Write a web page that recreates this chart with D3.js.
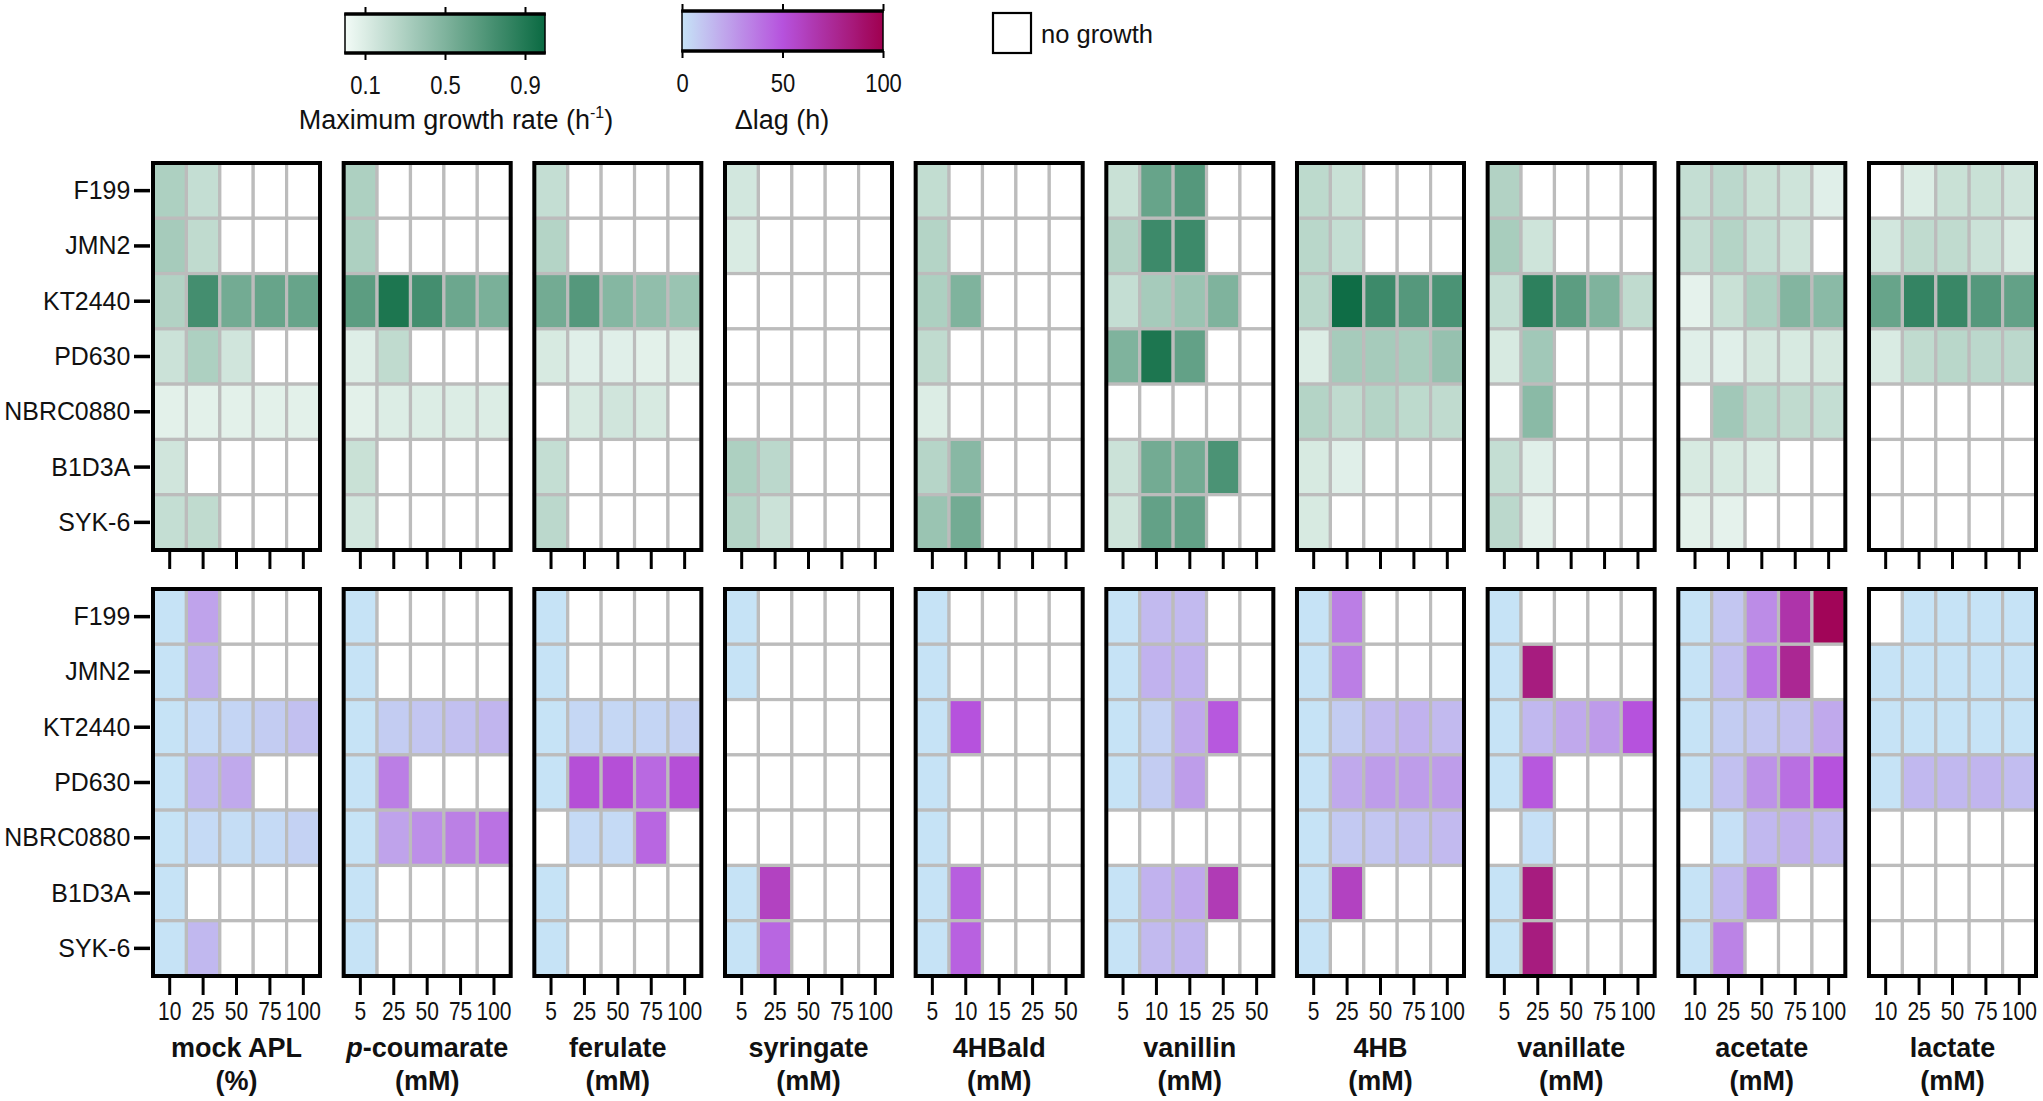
<!DOCTYPE html>
<html><head><meta charset="utf-8">
<script src="https://cdn.jsdelivr.net/npm/d3@7"></script>
<style>
html,body{margin:0;padding:0;background:#fff;}
svg{display:block;}
text{font-family:"Liberation Sans",Arial,Helvetica,sans-serif;fill:#111;}
</style></head><body>
<svg id="chart" width="2043" height="1101"></svg>
<script>
const N = null;
const strains = ["F199","JMN2","KT2440","PD630","NBRC0880","B1D3A","SYK-6"];
const substrates = ["mock APL","p-coumarate","ferulate","syringate","4HBald","vanillin","4HB","vanillate","acetate","lactate"];
const units = ["(%)","(mM)","(mM)","(mM)","(mM)","(mM)","(mM)","(mM)","(mM)","(mM)"];
const concentrations = [
  ["10","25","50","75","100"],["5","25","50","75","100"],["5","25","50","75","100"],
  ["5","25","50","75","100"],["5","10","15","25","50"],["5","10","15","25","50"],
  ["5","25","50","75","100"],["5","25","50","75","100"],["10","25","50","75","100"],
  ["10","25","50","75","100"]];
const growthTicks = [0.1, 0.5, 0.9];
const lagTicks = [0, 50, 100];

// Maximum growth rate (h^-1), rows = strains, cols = concentrations
const rateMockAPL   = [[0.30,0.20,N,N,N],[0.33,0.22,N,N,N],[0.28,0.75,0.55,0.60,0.60],[0.17,0.30,0.15,N,N],[0.07,0.07,0.07,0.07,0.07],[0.15,N,N,N,N],[0.20,0.22,N,N,N]];
const rateCoumarate = [[0.30,N,N,N,N],[0.30,N,N,N,N],[0.65,0.92,0.75,0.58,0.52],[0.09,0.22,N,N,N],[0.07,0.10,0.10,0.10,0.10],[0.18,N,N,N,N],[0.14,N,N,N,N]];
const rateFerulate  = [[0.20,N,N,N,N],[0.27,N,N,N,N],[0.55,0.68,0.47,0.42,0.38],[0.12,0.08,0.08,0.07,0.07],[N,0.12,0.15,0.12,N],[0.20,N,N,N,N],[0.24,N,N,N,N]];
const rateSyringate = [[0.14,N,N,N,N],[0.11,N,N,N,N],[N,N,N,N,N],[N,N,N,N,N],[N,N,N,N,N],[0.30,0.24,N,N,N],[0.27,0.17,N,N,N]];
const rate4HBald    = [[0.21,N,N,N,N],[0.27,N,N,N,N],[0.30,0.50,N,N,N],[0.22,N,N,N,N],[0.10,N,N,N,N],[0.26,0.46,N,N,N],[0.38,0.55,N,N,N]];
const rateVanillin  = [[0.18,0.60,0.68,N,N],[0.28,0.78,0.78,N,N],[0.20,0.33,0.38,0.50,N],[0.50,0.92,0.62,N,N],[N,N,N,N,N],[0.17,0.55,0.55,0.72,N],[0.16,0.62,0.62,N,N]];
const rate4HB       = [[0.23,0.18,N,N,N],[0.25,0.20,N,N,N],[0.25,0.98,0.78,0.68,0.72],[0.10,0.33,0.33,0.32,0.40],[0.27,0.22,0.27,0.23,0.22],[0.12,0.08,N,N,N],[0.12,N,N,N,N]];
const rateVanillate = [[0.28,N,N,N,N],[0.32,0.16,N,N,N],[0.20,0.85,0.65,0.50,0.22],[0.12,0.35,N,N,N],[N,0.45,N,N,N],[0.20,0.08,N,N,N],[0.24,0.06,N,N,N]];
const rateAcetate   = [[0.20,0.24,0.18,0.16,0.08],[0.20,0.27,0.20,0.16,N],[0.06,0.18,0.30,0.48,0.45],[0.08,0.08,0.13,0.12,0.13],[N,0.35,0.25,0.22,0.20],[0.12,0.12,0.10,N,N],[0.07,0.06,N,N,N]];
const rateLactate   = [[N,0.10,0.18,0.18,0.15],[0.14,0.22,0.22,0.17,0.11],[0.60,0.82,0.80,0.68,0.62],[0.11,0.22,0.25,0.24,0.24],[N,N,N,N,N],[N,N,N,N,N],[N,N,N,N,N]];

// Δlag (h)
const lagMockAPL   = [[0,22,N,N,N],[0,18,N,N,N],[0,3,5,8,12],[0,15,20,N,N],[0,3,2,3,6],[0,N,N,N,N],[0,15,N,N,N]];
const lagCoumarate = [[0,N,N,N,N],[0,N,N,N,N],[0,8,10,12,16],[0,35,N,N,N],[0,22,29,34,39],[0,N,N,N,N],[0,N,N,N,N]];
const lagFerulate  = [[0,N,N,N,N],[0,N,N,N,N],[0,4,4,5,6],[0,52,52,42,52],[N,3,3,43,N],[0,N,N,N,N],[0,N,N,N,N]];
const lagSyringate = [[0,N,N,N,N],[0,N,N,N,N],[N,N,N,N,N],[N,N,N,N,N],[N,N,N,N,N],[0,60,N,N,N],[0,43,N,N,N]];
const lag4HBald    = [[0,N,N,N,N],[0,N,N,N,N],[0,50,N,N,N],[0,N,N,N,N],[0,N,N,N,N],[0,46,N,N,N],[0,45,N,N,N]];
const lagVanillin  = [[0,14,14,N,N],[0,17,17,N,N],[0,6,20,48,N],[0,8,24,N,N],[N,N,N,N,N],[0,17,20,64,N],[0,14,16,N,N]];
const lag4HB       = [[0,35,N,N,N],[0,35,N,N,N],[0,8,14,17,14],[0,20,24,24,24],[0,9,10,12,14],[0,60,N,N,N],[0,N,N,N,N]];
const lagVanillate = [[0,N,N,N,N],[0,83,N,N,N],[0,15,20,25,50],[0,48,N,N,N],[N,1,N,N,N],[0,83,N,N,N],[0,83,N,N,N]];
const lagAcetate   = [[0,10,30,68,97],[0,12,38,76,N],[0,8,10,12,20],[0,12,28,40,50],[N,1,15,18,15],[0,15,35,N,N],[0,33,N,N,N]];
const lagLactate   = [[N,0,0,0,0],[0,0,0,0,0],[0,0,0,0,0],[0,15,15,16,13],[N,N,N,N,N],[N,N,N,N,N],[N,N,N,N,N]];

const rates = [rateMockAPL,rateCoumarate,rateFerulate,rateSyringate,rate4HBald,rateVanillin,rate4HB,rateVanillate,rateAcetate,rateLactate];
const lags  = [lagMockAPL,lagCoumarate,lagFerulate,lagSyringate,lag4HBald,lagVanillin,lag4HB,lagVanillate,lagAcetate,lagLactate];

const FONT = '"Liberation Sans",Arial,Helvetica,sans-serif';
const svg = d3.select("#chart");
const growthColor = d3.scaleLinear().domain([0,1]).range(["#f3fbf7","#0a6a42"]).clamp(true);
const lagColor = d3.scaleLinear().domain([0,50,100]).range(["#c6e3f6","#b652dd","#a0004f"]).clamp(true);

const panelX = d3.scaleBand().domain(d3.range(10)).range([153,2036]).paddingInner(0.124).paddingOuter(0);
const rows = [{data: rates, color: growthColor, y0:163, y1:550, labels:false},
              {data: lags, color: lagColor, y0:589, y1:976, labels:true}];

rows.forEach((row) => {
  const yS = d3.scaleBand().domain(strains).range([row.y0,row.y1]);
  substrates.forEach((sub, pi) => {
    const x0 = panelX(pi), w = panelX.bandwidth();
    const xS = d3.scaleBand().domain(concentrations[pi]).range([x0, x0+w]);
    const g = svg.append("g");
    const cells = [];
    row.data[pi].forEach((r, i) => r.forEach((v, j) => cells.push({s:strains[i], c:concentrations[pi][j], v})));
    g.selectAll("rect.cell").data(cells).join("rect")
      .attr("x", d => xS(d.c)).attr("y", d => yS(d.s))
      .attr("width", xS.bandwidth()).attr("height", yS.bandwidth())
      .attr("fill", d => d.v === null ? "#ffffff" : row.color(d.v))
      .attr("stroke", "#bcbcbc").attr("stroke-width", 3.2);
    g.append("rect").attr("x", x0).attr("y", row.y0).attr("width", w).attr("height", row.y1-row.y0)
      .attr("fill","none").attr("stroke","#000").attr("stroke-width",4);
    const ax = d3.axisBottom(xS).tickSize(17).tickPadding(7);
    const axg = g.append("g").attr("transform", `translate(0,${row.y1+2})`).call(ax);
    axg.select(".domain").remove();
    axg.selectAll(".tick line").attr("stroke","#000").attr("stroke-width",3);
    if (row.labels) {
      axg.selectAll(".tick text").attr("font-size",25).attr("fill","#111").attr("font-family",FONT)
        .attr("transform","scale(0.84,1)");
      const cx = x0 + w/2;
      const t1 = g.append("text").attr("x",cx).attr("y",1057).attr("text-anchor","middle")
        .attr("font-size",27).attr("font-weight","bold");
      if (sub === "p-coumarate") {
        t1.append("tspan").attr("font-style","italic").text("p");
        t1.append("tspan").text("-coumarate");
      } else t1.text(sub);
      g.append("text").attr("x",cx).attr("y",1090).attr("text-anchor","middle")
        .attr("font-size",27).attr("font-weight","bold").text(units[pi]);
    } else {
      axg.selectAll(".tick text").remove();
    }
  });
  const ay = d3.axisLeft(yS).tickSize(16).tickPadding(5);
  const ayg = svg.append("g").attr("transform", `translate(${panelX(0)-3},0)`).call(ay);
  ayg.select(".domain").remove();
  ayg.selectAll(".tick line").attr("stroke","#000").attr("stroke-width",3.5);
  ayg.selectAll(".tick text").attr("font-size",26.5).attr("fill","#111").attr("font-family",FONT)
    .attr("transform","scale(0.94,1)");
});

// Legends
const defs = svg.append("defs");
function gradient(id, scale, domain) {
  const lg = defs.append("linearGradient").attr("id", id).attr("x1","0%").attr("x2","100%");
  d3.range(0, 1.0001, 0.05).forEach(t => {
    lg.append("stop").attr("offset", (t*100)+"%").attr("stop-color", scale(domain[0] + t*(domain[1]-domain[0])));
  });
}
gradient("gGrow", growthColor, [0,1]);
gradient("gLag", lagColor, [0,100]);

function colorbar(x0, x1, y0, y1, grad, domain, ticks, fmt) {
  const s = d3.scaleLinear().domain(domain).range([x0, x1]);
  const g = svg.append("g");
  g.append("rect").attr("x",x0).attr("y",y0).attr("width",x1-x0).attr("height",y1-y0)
    .attr("fill",`url(#${grad})`).attr("stroke","#000").attr("stroke-width",1.5);
  g.append("line").attr("x1",x0-0.75).attr("x2",x1+0.75).attr("y1",y0).attr("y2",y0).attr("stroke","#000").attr("stroke-width",3.5);
  g.append("line").attr("x1",x0-0.75).attr("x2",x1+0.75).attr("y1",y1).attr("y2",y1).attr("stroke","#000").attr("stroke-width",3.5);
  const top = d3.axisTop(s).tickValues(ticks).tickSize(7).tickFormat("");
  g.append("g").attr("transform",`translate(0,${y0})`).call(top).call(a => {a.select(".domain").remove(); a.selectAll("line").attr("stroke","#000").attr("stroke-width",2);});
  const bot = d3.axisBottom(s).tickValues(ticks).tickSize(7).tickPadding(16).tickFormat(fmt);
  const bg = g.append("g").attr("transform",`translate(0,${y1})`).call(bot);
  bg.select(".domain").remove();
  bg.selectAll("line").attr("stroke","#000").attr("stroke-width",2);
  bg.selectAll("text").attr("font-size",25).attr("fill","#111").attr("font-family",FONT)
    .attr("transform","scale(0.88,1)");
  return g;
}
const gl = colorbar(345, 545, 14, 53, "gGrow", [0,1], growthTicks, d3.format(".1f"));
const tg = gl.append("text").attr("x",456).attr("y",129).attr("text-anchor","middle").attr("font-size",27);
tg.append("tspan").text("Maximum growth rate (h");
tg.append("tspan").attr("font-size",16).attr("dy",-11).text("-1");
tg.append("tspan").attr("dy",11).text(")");
const ll = colorbar(682, 883, 11, 51, "gLag", [0,100], lagTicks, d3.format("d"));
ll.append("text").attr("x",782).attr("y",129).attr("text-anchor","middle").attr("font-size",27).text("\u0394lag (h)");

svg.append("rect").attr("x",993).attr("y",13).attr("width",38).attr("height",40)
  .attr("fill","#fff").attr("stroke","#000").attr("stroke-width",2.2);
svg.append("text").attr("x",1041).attr("y",43).attr("font-size",25.5).text("no growth");
</script>
</body></html>
